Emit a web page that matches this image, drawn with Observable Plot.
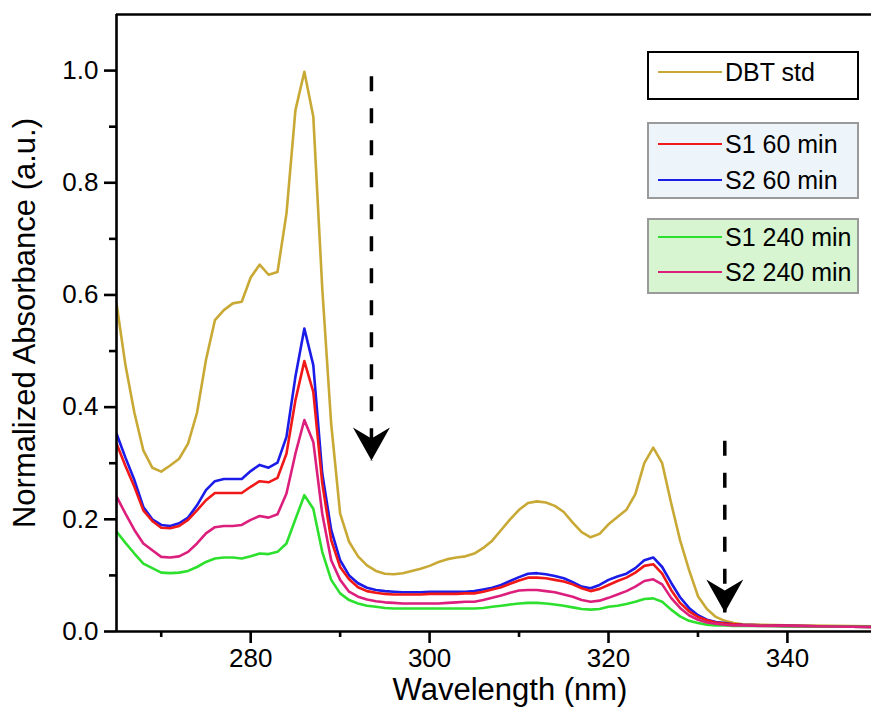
<!DOCTYPE html>
<html><head><meta charset="utf-8">
<script src="https://cdn.jsdelivr.net/npm/d3@7"></script>
<script src="https://cdn.jsdelivr.net/npm/@observablehq/plot@0.6"></script>
<style>
body{margin:0;background:#fff;font-family:"Liberation Sans",Arial,sans-serif;}
#wrap{position:relative;width:871px;height:711px;overflow:hidden;background:#fff;}
.box{position:absolute;box-sizing:border-box;}
.row{position:absolute;display:flex;align-items:center;height:30px;font-size:25px;line-height:30px;color:#000;white-space:nowrap;}
.sw{width:64px;height:2.5px;margin-right:3px;}
</style></head><body><div id="wrap"></div>
<script>
// ---- data ----
const wavelength = [265,266,267,268,269,270,271,272,273,274,275,276,277,278,279,280,281,282,283,284,285,286,287,288,289,290,291,292,293,294,295,296,297,298,299,300,301,302,303,304,305,306,307,308,309,310,311,312,313,314,315,316,317,318,319,320,321,322,323,324,325,326,327,328,329,330,331,332,333,334,335,337,340,345,350];

const dbtStd = [0.585,0.475,0.390,0.323,0.292,0.285,0.296,0.308,0.335,0.390,
0.484,0.555,0.573,0.585,0.588,0.631,0.654,0.636,0.641,0.745,
0.929,0.998,0.918,0.612,0.370,0.210,0.160,0.134,0.118,0.108,
0.103,0.102,0.104,0.108,0.112,0.117,0.124,0.129,0.132,0.134,
0.139,0.149,0.162,0.181,0.200,0.217,0.229,0.232,0.230,0.224,
0.213,0.194,0.177,0.168,0.174,0.191,0.204,0.217,0.245,0.300,
0.328,0.300,0.229,0.163,0.110,0.063,0.040,0.026,0.019,0.015,
0.013,0.012,0.011,0.010,0.009];

const s1_60 = [0.335,0.295,0.258,0.216,0.197,0.185,0.184,0.188,0.199,0.216,
0.234,0.247,0.247,0.247,0.247,0.258,0.268,0.266,0.274,0.317,
0.412,0.482,0.427,0.264,0.163,0.115,0.093,0.079,0.072,0.069,
0.067,0.066,0.066,0.066,0.066,0.067,0.067,0.067,0.067,0.068,
0.068,0.071,0.075,0.079,0.085,0.091,0.096,0.096,0.095,0.092,
0.089,0.084,0.077,0.072,0.076,0.083,0.090,0.096,0.105,0.117,
0.120,0.103,0.074,0.051,0.036,0.026,0.020,0.016,0.014,0.013,
0.012,0.011,0.010,0.009,0.008];

const s2_60 = [0.353,0.310,0.270,0.222,0.200,0.190,0.188,0.193,0.203,0.225,
0.252,0.268,0.272,0.272,0.272,0.286,0.297,0.292,0.301,0.347,
0.454,0.540,0.475,0.282,0.181,0.127,0.100,0.086,0.078,0.074,
0.072,0.071,0.070,0.070,0.070,0.071,0.071,0.071,0.071,0.071,
0.072,0.075,0.078,0.083,0.090,0.097,0.103,0.104,0.102,0.099,
0.095,0.088,0.080,0.077,0.083,0.092,0.098,0.103,0.113,0.127,
0.132,0.115,0.087,0.061,0.042,0.029,0.021,0.017,0.015,0.013,
0.012,0.011,0.010,0.009,0.008];

const s1_240 = [0.178,0.158,0.139,0.121,0.113,0.105,0.104,0.105,0.108,0.115,
0.124,0.130,0.132,0.132,0.130,0.134,0.139,0.138,0.142,0.157,
0.200,0.243,0.219,0.142,0.092,0.068,0.056,0.050,0.046,0.044,
0.042,0.041,0.041,0.041,0.041,0.041,0.041,0.041,0.041,0.041,
0.041,0.042,0.044,0.046,0.048,0.050,0.051,0.051,0.050,0.048,
0.046,0.043,0.040,0.039,0.040,0.044,0.046,0.049,0.053,0.058,
0.059,0.053,0.039,0.027,0.019,0.015,0.012,0.011,0.011,0.010,
0.010,0.010,0.009,0.009,0.008];

const s2_240 = [0.241,0.210,0.181,0.157,0.145,0.133,0.132,0.134,0.142,0.157,
0.175,0.186,0.188,0.188,0.190,0.199,0.206,0.203,0.209,0.246,
0.317,0.377,0.338,0.210,0.127,0.092,0.071,0.062,0.057,0.054,
0.052,0.051,0.050,0.050,0.050,0.050,0.050,0.051,0.052,0.053,
0.053,0.056,0.060,0.064,0.069,0.073,0.074,0.074,0.072,0.070,
0.066,0.062,0.056,0.053,0.055,0.060,0.066,0.072,0.080,0.090,
0.093,0.084,0.060,0.042,0.029,0.021,0.016,0.014,0.012,0.011,
0.011,0.010,0.010,0.009,0.008];

const seriesNames = ["DBT std","S1 60 min","S2 60 min","S1 240 min","S2 240 min"];
const seriesValues = [dbtStd, s1_60, s2_60, s1_240, s2_240];
const drawOrder = [0, 2, 1, 3, 4];

const xTicksMajor = [280, 300, 320, 340];
const xTicksMinor = [270, 290, 310, 330];
const yTicksMajor = [0.0, 0.2, 0.4, 0.6, 0.8, 1.0];
const yTicksMinor = [0.1, 0.3, 0.5, 0.7, 0.9];

// arrows (wavelength, start value, tip value)
const arrowNm = [293.5, 333.0];
const arrowFrom = [0.99, 0.34];
const arrowTip = [0.305, 0.034];

const xLabel = "Wavelength (nm)";
const yLabel = "Normalized Absorbance (a.u.)";

// ---- styles ----
const colors = ["#c9a935", "#f01818", "#1c1ce8", "#2ee02e", "#dc1f7c"];
const legendGroups = [[0], [1, 2], [3, 4]];

const arrowHead = {
  draw(ctx) {
    ctx.moveTo(0, 0);
    ctx.lineTo(-18.5, -33);
    ctx.lineTo(0, -22);
    ctx.lineTo(18.5, -33);
    ctx.closePath();
  }
};

const xDomain = [265, 349.4];
const yDomain = [0, 1.1];

const lineMarks = drawOrder.map(i =>
  Plot.line(wavelength, {
    x: d => d,
    y: (d, j) => seriesValues[i][j],
    stroke: colors[i],
    strokeWidth: 2.6,
    clip: true
  })
);

const arrowIdx = arrowNm.map((_, i) => i);

const chart = Plot.plot({
  width: 871,
  height: 711,
  marginLeft: 116,
  marginRight: 0,
  marginTop: 14,
  marginBottom: 80,
  style: {fontFamily: "'Liberation Sans', Arial, sans-serif", background: "white", color: "black"},
  x: {domain: xDomain, label: null},
  y: {domain: yDomain, label: null},
  marks: [
    ...lineMarks,
    Plot.link(arrowIdx, {
      x1: i => arrowNm[i], x2: i => arrowNm[i],
      y1: i => arrowFrom[i], y2: i => arrowTip[i],
      stroke: "black", strokeWidth: 3.5, strokeDasharray: "15,17"
    }),
    Plot.dot(arrowIdx, {
      x: i => arrowNm[i], y: i => arrowTip[i],
      symbol: arrowHead, fill: "black", stroke: "none", r: 10
    }),
    Plot.ruleX([xDomain[0]], {stroke: "black", strokeWidth: 2.6}),
    Plot.ruleY([yDomain[0]], {stroke: "black", strokeWidth: 2.6}),
    Plot.ruleY([yDomain[1]], {stroke: "black", strokeWidth: 2.6}),
    Plot.axisY({ticks: yTicksMajor, tickSize: 12, tickPadding: 6, tickFormat: d3.format(".1f"), fontSize: 26, strokeWidth: 2.6, label: null}),
    Plot.axisY({ticks: yTicksMinor, tickSize: 7, tickFormat: () => "", strokeWidth: 2.6, label: null}),
    Plot.axisX({ticks: xTicksMajor, tickSize: 12, tickPadding: 5, tickFormat: d3.format("d"), fontSize: 26, strokeWidth: 2.6, label: null}),
    Plot.axisX({ticks: xTicksMinor, tickSize: 6, tickFormat: () => "", strokeWidth: 2.6, label: null}),
    Plot.text([xLabel], {text: d => d, frameAnchor: "bottom", lineAnchor: "middle", textAnchor: "middle", dy: 59, dx: 16, fontSize: 31, fill: "black"}),
    Plot.text([yLabel], {text: d => d, frameAnchor: "left", lineAnchor: "middle", textAnchor: "middle", dx: -91, rotate: -90, fontSize: 31, fill: "black"})
  ]
});

const wrap = document.getElementById("wrap");
wrap.appendChild(chart);

// ---- legend ----
const boxes = [
  {top: 51, height: 49, border: "2px solid #000", bg: "#ffffff", rows: [72]},
  {top: 122, height: 77, border: "2px solid #9a9a9a", bg: "#eef5fa", rows: [144, 180]},
  {top: 218, height: 76, border: "2px solid #9a9a9a", bg: "#d6f5d0", rows: [237, 272]}
];
boxes.forEach((b, g) => {
  const box = document.createElement("div");
  box.className = "box";
  Object.assign(box.style, {left: "647px", top: b.top + "px", width: "212px", height: b.height + "px", border: b.border, background: b.bg});
  wrap.appendChild(box);
  legendGroups[g].forEach((si, k) => {
    const row = document.createElement("div");
    row.className = "row";
    row.style.left = "658px";
    row.style.top = (b.rows[k] - 15) + "px";
    const sw = document.createElement("div");
    sw.className = "sw";
    sw.style.background = colors[si];
    const t = document.createElement("span");
    t.textContent = seriesNames[si];
    row.appendChild(sw);
    row.appendChild(t);
    wrap.appendChild(row);
  });
});
</script>
</body></html>
